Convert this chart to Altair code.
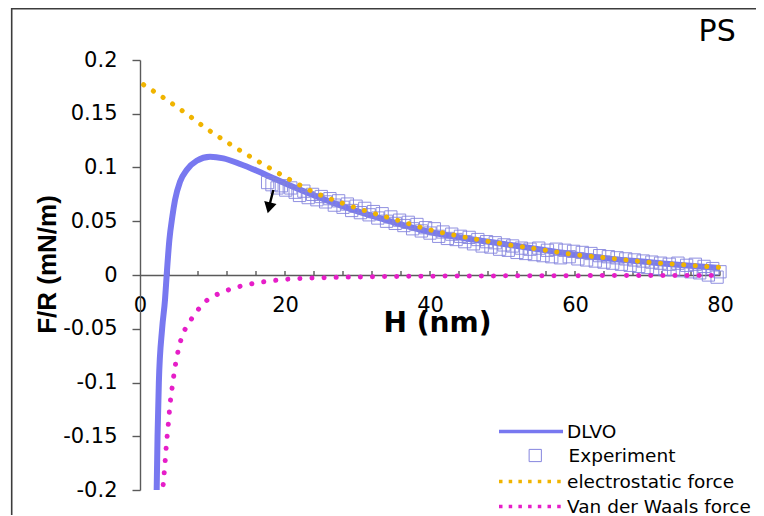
import altair as alt
import pandas as pd

# ---------------- data ----------------
series_names = ["DLVO", "Experiment", "electrostatic force", "Van der Waals force"]
series_colors = ["#7878F0", "#8585DE", "#F0B400", "#E61EC8"]

dlvo_H = [2.3, 2.42, 2.6, 3.05, 3.45, 3.68, 4.05, 4.46, 4.83, 5.52, 6.44, 7.82,
          9.66, 11.5, 13.8, 16.1, 18.4, 21.1, 24.9, 29.4, 34.0, 40.0, 45.0, 50.0,
          55.0, 60.0, 65.0, 70.0, 75.0, 80.0]
dlvo_F = [-0.2, -0.15, -0.1, -0.05, -0.023, 0.0, 0.0326, 0.0543, 0.0698, 0.0868,
          0.0977, 0.1063, 0.110, 0.1085, 0.1033, 0.097, 0.090, 0.082, 0.0716,
          0.0605, 0.051, 0.040, 0.034, 0.029, 0.024, 0.019, 0.015, 0.012, 0.009,
          0.0065]

exp_H = [17.6, 18.2, 18.9, 19.5, 20.1, 20.8, 21.4, 22.0, 22.6, 23.2, 23.8, 24.4,
         25.0, 25.6, 26.2, 26.8, 27.4, 28.0, 28.6, 29.2, 29.8, 30.4, 31.0, 31.6,
         32.2, 32.8, 33.4, 34.0, 34.6, 35.2, 35.8, 36.4, 37.0, 37.6, 38.2, 38.8,
         39.4, 40.0, 40.6, 41.2, 41.8, 42.4, 43.0, 43.6, 44.2, 44.8, 45.4, 46.0,
         46.6, 47.2, 47.8, 48.4, 49.0, 49.6, 50.2, 50.8, 51.4, 52.0, 52.6, 53.2,
         53.8, 54.4, 55.0, 55.6, 56.2, 56.8, 57.4, 58.0, 58.6, 59.2, 59.8, 60.4,
         61.0, 61.6, 62.2, 62.8, 63.4, 64.0, 64.6, 65.2, 65.8, 66.4, 67.0, 67.6,
         68.2, 68.8, 69.4, 70.0, 70.6, 71.2, 71.8, 72.4, 73.0, 73.6, 74.2, 74.8,
         75.4, 76.0, 76.6, 77.2, 77.8, 78.4, 79.0, 79.6, 80.0]
exp_F = [0.086, 0.084, 0.081, 0.083, 0.079, 0.081, 0.077, 0.074, 0.078, 0.072,
         0.075, 0.070, 0.073, 0.068, 0.071, 0.065, 0.069, 0.063, 0.066, 0.060,
         0.064, 0.058, 0.062, 0.056, 0.059, 0.053, 0.057, 0.050, 0.054, 0.048,
         0.051, 0.046, 0.049, 0.043, 0.047, 0.041, 0.044, 0.039, 0.043, 0.036,
         0.040, 0.034, 0.038, 0.033, 0.036, 0.031, 0.035, 0.029, 0.033, 0.027,
         0.031, 0.026, 0.030, 0.024, 0.028, 0.023, 0.027, 0.021, 0.025, 0.020,
         0.024, 0.019, 0.025, 0.018, 0.023, 0.017, 0.024, 0.016, 0.023, 0.017,
         0.022, 0.015, 0.021, 0.014, 0.020, 0.013, 0.018, 0.012, 0.017, 0.011,
         0.016, 0.010, 0.015, 0.009, 0.014, 0.008, 0.013, 0.007, 0.012, 0.006,
         0.011, 0.005, 0.010, 0.005, 0.011, 0.004, 0.009, 0.003, 0.010, 0.002,
         0.008, 0.000, 0.006, -0.002, 0.003]

elec_H = [0.5, 3.0, 6.0, 9.0, 12.0, 15.0, 18.0, 21.0, 24.0, 27.0, 30.0, 35.0,
          40.0, 45.0, 50.0, 55.0, 60.0, 65.0, 70.0, 75.0, 80.0]
elec_F = [0.177, 0.166, 0.152, 0.137, 0.1235, 0.111, 0.099, 0.0875, 0.077, 0.069,
          0.062, 0.052, 0.042, 0.035, 0.029, 0.024, 0.019, 0.0155, 0.012, 0.0095,
          0.007]

vdw_H = [3.2, 3.45, 3.65, 3.9, 4.15, 4.5, 4.9, 5.35, 5.9, 6.6, 7.4, 8.3, 9.4,
         11.0, 12.8, 14.6, 16.3, 18.3, 20.1, 23.0, 27.0, 32.0, 40.0, 50.0, 60.0,
         70.0, 80.0]
vdw_F = [-0.195, -0.175, -0.157, -0.139, -0.12, -0.1015, -0.083, -0.068, -0.055,
         -0.0465, -0.0378, -0.030, -0.0226, -0.017, -0.0124, -0.0093, -0.0071,
         -0.0053, -0.004, -0.003, -0.0022, -0.0016, -0.0011, -0.0008, -0.0006,
         -0.0005, -0.0004]

arrow_H = [18.39]
arrow_F = [0.0791]
arrow_H2 = [17.93]
arrow_F2 = [0.0667]
arrow_head_H = [17.8]
arrow_head_F = [0.0625]

panel_label = ["PS"]
panel_label_H = [79.6]
panel_label_F = [0.2265]

x_label_values = [0, 20, 40, 60, 80]
x_minor_ticks = [4, 8, 12, 16, 20, 24, 28, 32, 36, 40, 44, 48, 52, 56, 60, 64,
                 68, 72, 76, 80]
y_label_values = [-0.2, -0.15, -0.1, -0.05, 0, 0.05, 0.1, 0.15, 0.2]

# ---------------- tables ----------------
dlvo_df = pd.DataFrame({"H": dlvo_H, "F": dlvo_F, "series": series_names[0]})
exp_df = pd.DataFrame({"H": exp_H, "F": exp_F, "series": series_names[1]})
elec_df = pd.DataFrame({"H": elec_H, "F": elec_F, "series": series_names[2]})
vdw_df = pd.DataFrame({"H": vdw_H, "F": vdw_F, "series": series_names[3]})
arrow_df = pd.DataFrame({"H": arrow_H, "F": arrow_F, "H2": arrow_H2, "F2": arrow_F2})
head_df = pd.DataFrame({"H": arrow_head_H, "F": arrow_head_F})
tick_df = pd.DataFrame({"H": x_minor_ticks, "F": [0] * len(x_minor_ticks)})
label_df = pd.DataFrame({"H": panel_label_H, "F": panel_label_F, "t": panel_label})
frame_df = pd.DataFrame({"k": [0]})

AXIS_GREY = "#5a5a5a"
FRAME_GREY = "#3c3c3c"
LEG_FONT = "DejaVu Sans"
LEG_SIZE = 18.5

x_enc = alt.X(
    "H:Q",
    scale=alt.Scale(domain=[0, 80], nice=False, zero=False),
    axis=alt.Axis(
        values=x_label_values, offset=-215, ticks=False, tickSize=0,
        domainColor=AXIS_GREY, domainWidth=1.4, grid=False,
        labelFont="DejaVu Sans", labelFontSize=21, labelColor="#000000",
        labelPadding=19, labelFlush=False,
        title="H (nm)", titleFont="DejaVu Sans", titleFontSize=28,
        titleFontWeight="bold", titleColor="#000000",
        titleX=297, titleY=56, titleAlign="center", titleBaseline="alphabetic",
    ),
)
y_enc = alt.Y(
    "F:Q",
    scale=alt.Scale(domain=[-0.2, 0.2], nice=False, zero=False),
    axis=alt.Axis(
        values=y_label_values, labelExpr="'' + datum.value",
        domainColor=AXIS_GREY, domainWidth=1.4, tickColor=AXIS_GREY,
        tickWidth=1.4, tickSize=8, grid=False,
        labelFont="DejaVu Sans", labelFontSize=21, labelColor="#000000",
        labelPadding=15, labelFlush=False,
        title="F/R (mN/m)", titleFont="Liberation Sans", titleFontSize=26,
        titleFontWeight="bold", titleColor="#000000", titleAngle=270,
        titleX=-85, titleY=204, titleAlign="center", titleBaseline="alphabetic",
    ),
)

# legend A : DLVO (stroke channel)
stroke_enc = alt.Stroke(
    "series:N",
    scale=alt.Scale(domain=[series_names[0]], range=[series_colors[0]]),
    legend=alt.Legend(
        title=None, orient="none", legendX=357, legendY=359, padding=0,
        symbolType="stroke", symbolSize=4096, symbolStrokeWidth=3.5,
        symbolOpacity=1, clipHeight=25, rowPadding=0,
        labelFont=LEG_FONT, labelFontSize=LEG_SIZE, labelColor="#000000",
        labelOffset=2, labelLimit=400,
    ),
)
# legend B : Experiment (shape channel)
shape_enc = alt.Shape(
    "series:N",
    scale=alt.Scale(domain=[series_names[1]], range=["square"]),
    legend=alt.Legend(
        title=None, orient="none", legendX=386, legendY=383, padding=0,
        symbolType="square", symbolSize=150, symbolStrokeWidth=1,
        symbolStrokeColor=series_colors[1], symbolFillColor="transparent",
        symbolOpacity=1, clipHeight=25, rowPadding=0,
        labelFont=LEG_FONT, labelFontSize=LEG_SIZE, labelColor="#000000",
        labelOffset=24, labelLimit=400,
    ),
)
# legend C : the two dotted model curves (color channel)
color_enc = alt.Color(
    "series:N",
    scale=alt.Scale(domain=series_names[2:], range=series_colors[2:]),
    legend=alt.Legend(
        title=None, orient="none", legendX=357, legendY=409, padding=0,
        symbolType="stroke", symbolSize=4096, symbolStrokeWidth=3.5,
        symbolDash=[3.5, 6.2], symbolOpacity=1, clipHeight=25, rowPadding=0,
        labelFont=LEG_FONT, labelFontSize=LEG_SIZE, labelColor="#000000",
        labelOffset=2, labelLimit=400,
    ),
)

frame_top = alt.Chart(frame_df).mark_rule(
    stroke=FRAME_GREY, strokeWidth=1.6
).encode(x=alt.value(-128.3), x2=alt.value(1200), y=alt.value(-51.2))
frame_left = alt.Chart(frame_df).mark_rule(
    stroke=FRAME_GREY, strokeWidth=1.6
).encode(x=alt.value(-128.3), y=alt.value(-52), y2=alt.value(1200))

exp_layer = alt.Chart(exp_df).mark_point(
    filled=False, size=150, strokeWidth=1, opacity=0.9, color=series_colors[1]
).encode(x=x_enc, y=y_enc, shape=shape_enc)

dlvo_layer = alt.Chart(dlvo_df).mark_line(
    strokeWidth=6, interpolate="monotone"
).encode(x=x_enc, y=y_enc, stroke=stroke_enc)

elec_layer = alt.Chart(elec_df).mark_line(
    strokeWidth=5, strokeDash=[0.1, 11.5], strokeCap="round", interpolate="monotone"
).encode(x=x_enc, y=y_enc, color=color_enc)

vdw_layer = alt.Chart(vdw_df).mark_line(
    strokeWidth=5, strokeDash=[0.1, 12], strokeCap="round", interpolate="monotone"
).encode(x=x_enc, y=y_enc, color=color_enc)

tick_layer = alt.Chart(tick_df).mark_tick(
    orient="vertical", size=4, thickness=1.4, yOffset=-2, color=AXIS_GREY, opacity=1
).encode(x=x_enc, y=y_enc)

arrow_layer = alt.Chart(arrow_df).mark_rule(
    color="#000000", strokeWidth=2.4
).encode(x=x_enc, y=y_enc, x2="H2:Q", y2="F2:Q")

head_layer = alt.Chart(head_df).mark_point(
    shape="triangle-down", filled=True, size=160, angle=14, color="#000000", opacity=1
).encode(x=x_enc, y=y_enc)

label_layer = alt.Chart(label_df).mark_text(
    font="DejaVu Sans", fontSize=30, color="#000000", align="center",
    baseline="middle"
).encode(x=x_enc, y=y_enc, text="t:N")

chart = alt.layer(
    frame_top, frame_left, tick_layer, dlvo_layer, exp_layer, elec_layer,
    vdw_layer, arrow_layer, head_layer, label_layer
).properties(
    width=580, height=430,
    autosize=alt.AutoSizeParams(type="none"),
    padding={"left": 132, "top": 52, "right": 36, "bottom": 25},
).configure_view(strokeWidth=0)

chart.save("out.html", embed_options={"renderer": "svg", "actions": False})
